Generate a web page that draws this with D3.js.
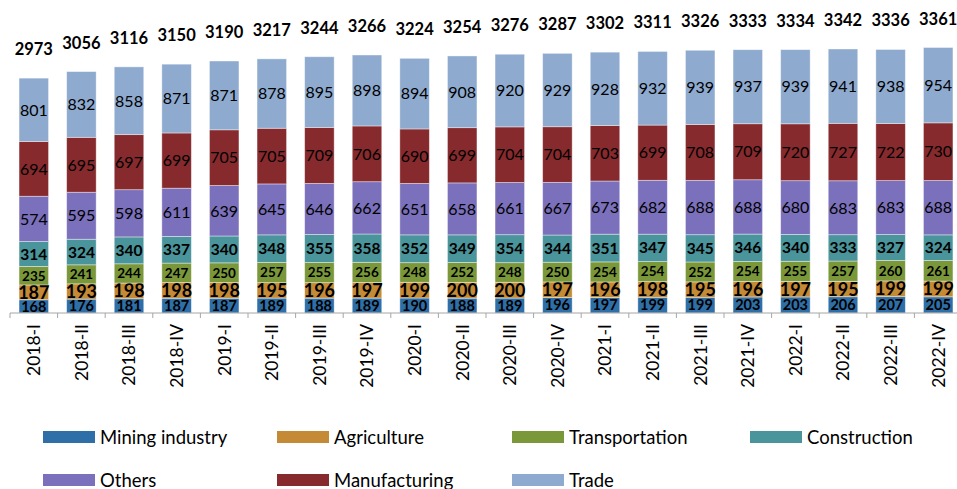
<!DOCTYPE html>
<html>
<head>
<meta charset="utf-8">
<script src="https://cdn.jsdelivr.net/npm/d3@7"></script>
<style>
  body { margin: 0; background: #fff; }
  svg { display: block; font-family: Lato, "Liberation Sans", sans-serif; }
</style>
</head>
<body>
<svg id="chart" width="957" height="489"></svg>
<script>

var quarters = ["2018-I", "2018-II", "2018-III", "2018-IV", "2019-I", "2019-II", "2019-III", "2019-IV",
                "2020-I", "2020-II", "2020-III", "2020-IV", "2021-I", "2021-II", "2021-III", "2021-IV",
                "2022-I", "2022-II", "2022-III", "2022-IV"]

var series = ["Mining industry", "Agriculture", "Transportation", "Construction", "Others", "Manufacturing", "Trade"]

var mining        = [168, 176, 181, 187, 187, 189, 188, 189, 190, 188, 189, 196, 197, 199, 199, 203, 203, 206, 207, 205]
var agriculture   = [187, 193, 198, 198, 198, 195, 196, 197, 199, 200, 200, 197, 196, 198, 195, 196, 197, 195, 199, 199]
var transport     = [235, 241, 244, 247, 250, 257, 255, 256, 248, 252, 248, 250, 254, 254, 252, 254, 255, 257, 260, 261]
var construction  = [314, 324, 340, 337, 340, 348, 355, 358, 352, 349, 354, 344, 351, 347, 345, 346, 340, 333, 327, 324]
var others        = [574, 595, 598, 611, 639, 645, 646, 662, 651, 658, 661, 667, 673, 682, 688, 688, 680, 683, 683, 688]
var manufacturing = [694, 695, 697, 699, 705, 705, 709, 706, 690, 699, 704, 704, 703, 699, 708, 709, 720, 727, 722, 730]
var trade         = [801, 832, 858, 871, 871, 878, 895, 898, 894, 908, 920, 929, 928, 932, 939, 937, 939, 941, 938, 954]

var colors = ["#2f6fa8", "#c48a35", "#7a983a", "#4a949b", "#7b70bb", "#862a2e", "#8eaacf"]

// label look per series: size, weight
var labelSize   = [14.5, 18, 13.5, 15.5, 16, 16, 16]
var labelWeight = ["bold", "bold", "bold", "bold", "normal", "normal", "normal"]

var values = [mining, agriculture, transport, construction, others, manufacturing, trade]

var rows = quarters.map(function(q, i) {
    var r = { q: q }
    series.forEach(function(s, j) { r[s] = values[j][i] })
    return r
})

var totals = quarters.map(function(q, i) {
    return d3.sum(values, function(v) { return v[i] })
})

var svg = d3.select("#chart")

var x = d3.scaleBand()
            .domain(quarters)
            .range([10, 962])
            .paddingInner(0.38)
            .paddingOuter(0.19)

var y = d3.scaleLinear()
            .domain([0, 3361])
            .range([313, 47.5])

var stacked = d3.stack().keys(series)(rows)

var layers = svg.append("g")
                .selectAll("g")
                .data(stacked)
                .enter().append("g")
                .attr("fill", function(d, i) { return colors[i] })

layers.selectAll("rect")
        .data(function(d) { return d })
        .enter().append("rect")
        .attr("x", function(d) { return x(d.data.q) })
        .attr("width", x.bandwidth())
        .attr("y", function(d) { return y(d[1]) })
        .attr("height", function(d) { return y(d[0]) - y(d[1]) })
        .attr("stroke", "#ffffff")
        .attr("stroke-opacity", 0.5)
        .attr("stroke-width", 0.8)

layers.each(function(layer, i) {
    d3.select(this).selectAll("text")
        .data(layer)
        .enter().append("text")
        .attr("x", function(d) { return x(d.data.q) + x.bandwidth() / 2 })
        .attr("y", function(d) { return (y(d[0]) + y(d[1])) / 2 })
        .attr("dy", "0.36em")
        .attr("text-anchor", "middle")
        .attr("fill", "#000")
        .attr("font-size", labelSize[i] + "px")
        .attr("font-weight", labelWeight[i])
        .text(function(d) { return d[1] - d[0] })
})

// totals above each bar
svg.append("g")
    .selectAll("text")
    .data(totals)
    .enter().append("text")
    .attr("x", function(d, i) { return x(quarters[i]) + x.bandwidth() / 2 })
    .attr("y", function(d) { return y(d) - 23 })
    .attr("text-anchor", "middle")
    .attr("font-size", "16.5px")
    .attr("font-weight", "bold")
    .attr("fill", "#000")
    .text(function(d) { return d })

// x axis
var axis = svg.append("g")
                .attr("transform", "translate(0, 313)")

axis.append("line")
    .attr("x1", 10).attr("x2", 962)
    .attr("stroke", "#a6a6a6")

axis.selectAll(".tick")
    .data(d3.range(quarters.length + 1))
    .enter().append("line")
    .attr("x1", function(d) { return 10 + d * x.step() })
    .attr("x2", function(d) { return 10 + d * x.step() })
    .attr("y2", 5)
    .attr("stroke", "#a6a6a6")

axis.selectAll("text")
    .data(quarters)
    .enter().append("text")
    .attr("transform", function(d) {
        return "translate(" + (x(d) + x.bandwidth() / 2) + ", 11) rotate(-90)"
    })
    .attr("text-anchor", "end")
    .attr("dy", "0.36em")
    .attr("font-size", "17.5px")
    .attr("fill", "#000")
    .text(function(d) { return d })

// legend
var legendX = [43, 277, 512, 750]

var legend = svg.append("g")
                .selectAll("g")
                .data(series)
                .enter().append("g")
                .attr("transform", function(d, i) {
                    return "translate(" + legendX[i % 4] + "," + (437 + Math.floor(i / 4) * 43) + ")"
                })

legend.append("rect")
        .attr("y", -6)
        .attr("width", 52)
        .attr("height", 12)
        .attr("fill", function(d, i) { return colors[i] })

legend.append("text")
        .attr("x", 57)
        .attr("dy", "0.36em")
        .attr("font-size", "18.5px")
        .attr("fill", "#000")
        .text(function(d) { return d })

</script>
</body>
</html>
